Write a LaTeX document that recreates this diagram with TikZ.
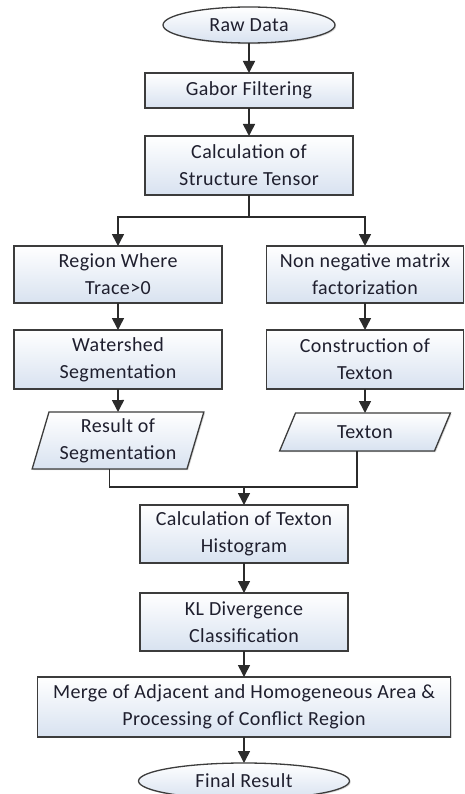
\documentclass[tikz,border=0pt]{standalone}
\usepackage{fontspec}
\setmainfont{Carlito}[LetterSpace=2]
\usepackage{tikz}
\usetikzlibrary{arrows.meta}
\usetikzlibrary{shapes.geometric}
\usetikzlibrary{shadows}
\usetikzlibrary{positioning}
\definecolor{fc-text}{HTML}{1F1F2E}
\definecolor{fc-line}{HTML}{2B2B2B}
\definecolor{fc-edge}{HTML}{3C3C3C}
\definecolor{fc-fill}{HTML}{D8E2F0}

\begin{document}
\begin{tikzpicture}[
    node distance=28pt and 40pt,
    font=\fontsize{20}{27}\selectfont,
    >={Triangle[length=12pt,width=12pt]}
  ]

  % Shared looks of the chart
  \tikzset{
    shade/.style={top color=white, bottom color=fc-fill, draw=fc-edge, line width=1.3pt, text=fc-text,
      outer sep=0pt, drop shadow={opacity=0.3, shadow xshift=1.2pt, shadow yshift=-1.2pt}},
    box/.style={shade, rectangle, minimum width=208pt, minimum height=58pt, align=center, inner sep=2pt},
    term/.style={shade, ellipse, minimum height=36pt, inner sep=0pt},
    data/.style={shade, trapezium, trapezium left angle=70, trapezium right angle=110,
      trapezium stretches=true, minimum width=172pt, align=center, inner sep=2pt},
    flow/.style={draw=fc-line, line width=1.6pt},
    arrow/.style={flow, ->}
  }

  \useasboundingbox (-249pt,25pt) rectangle (215pt,-769pt);
  \clip (-249pt,25pt) rectangle (215pt,-769pt);

  % Main column
  \node (raw)    [term, minimum width=172pt] at (0,0) {Raw Data};
  \node (gabor)  [box, minimum height=35pt, below=30pt of raw] {Gabor Filtering};
  \node (struct) [box, minimum height=59pt, below=28pt of gabor] {Calculation of\\Structure Tensor};

  % Left branch: segmentation
  \node (region)    [box, minimum height=57pt, below=51pt of struct, xshift=-131pt] {Region Where\\Trace>0};
  \node (watershed) [box, minimum height=59pt, below=27pt of region] {Watershed\\Segmentation};
  \node (result)    [data, trapezium left angle=73, trapezium right angle=107, minimum height=57pt,
                     below=23pt of watershed] {Result of\\Segmentation};

  % Right branch: texton
  \node (nmf)       [box, minimum width=197pt, minimum height=57pt, below=51pt of struct, xshift=116pt] {Non negative matrix\\factorization};
  \node (construct) [box, minimum width=197pt, minimum height=59pt, below=27pt of nmf] {Construction of\\Texton};
  \node (texton)    [data, trapezium left angle=68, trapezium right angle=112, minimum height=38pt,
                     below=24pt of construct] {Texton};

  % Classification part
  \node (hist)  [box, below=310pt of struct, xshift=-5pt] {Calculation of Texton\\Histogram};
  \node (kl)    [box, below=30pt of hist] {KL Divergence\\Classification};
  \node (merge) [box, minimum width=413pt, minimum height=60pt, below=26pt of kl]
                {Merge of Adjacent and Homogeneous Area \&\\Processing of Conflict Region};
  \node (final) [term, minimum width=211pt, below=26pt of merge] {Final Result};

  % Connectors
  \draw[arrow] (raw) -- (gabor);
  \draw[arrow] (gabor) -- (struct);
  \draw[flow] (struct.south) -- ++(0,-22pt) coordinate (fork);
  \draw[arrow] (fork) -| (region.north);
  \draw[arrow] (fork) -| (nmf.north);

  \draw[arrow] (region) -- (watershed);
  \draw[arrow] (watershed) -- (result);
  \draw[arrow] (nmf) -- (construct);
  \draw[arrow] (construct) -- (texton);

  \coordinate (join) at ([yshift=18pt]hist.north);
  \draw[flow] (result.bottom side) |- (join) -| (texton.bottom side);
  \draw[arrow] (join) -- (hist);

  \draw[arrow] (hist) -- (kl);
  \draw[arrow] (kl) -- (merge);
  \draw[arrow] (merge) -- (final);

\end{tikzpicture}
\end{document}
